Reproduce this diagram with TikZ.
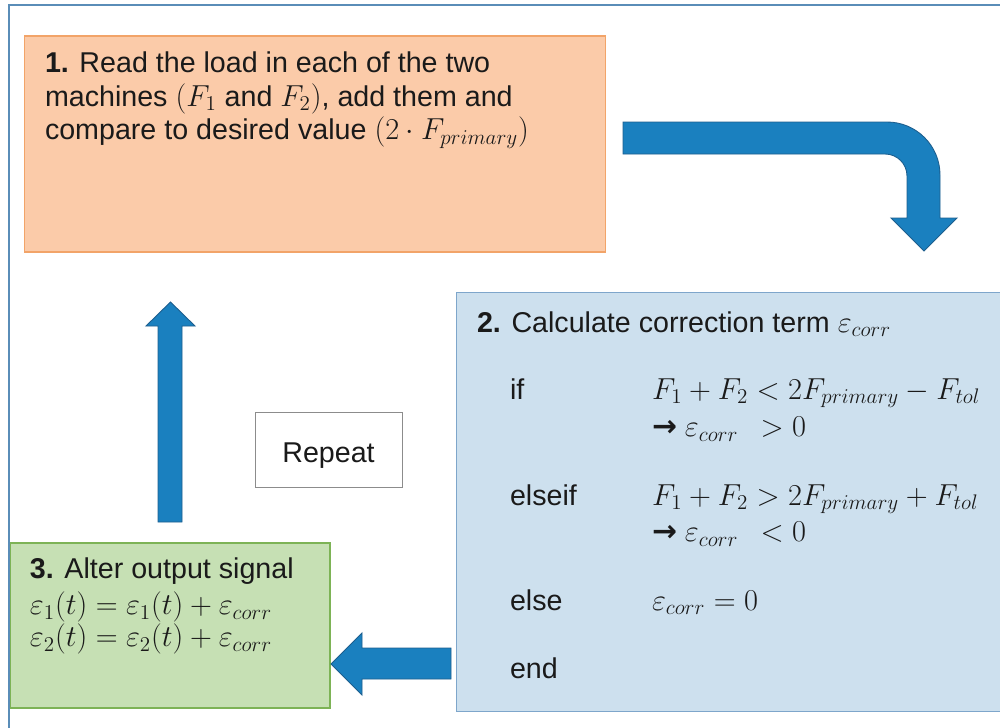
\documentclass[tikz,border=0pt]{standalone}
\usepackage{fontspec}
\setmainfont{Liberation Sans}
\newfontfamily\symfont{DejaVu Sans}
\definecolor{peach}{HTML}{FBCBA9}
\definecolor{peachline}{HTML}{F2A469}
\definecolor{lblue}{HTML}{CDE0EE}
\definecolor{lblueline}{HTML}{7EA6CB}
\definecolor{lgreen}{HTML}{C6E0B4}
\definecolor{lgreenline}{HTML}{7DB356}
\definecolor{arrowblue}{HTML}{1A80BF}
\definecolor{arrowline}{HTML}{1D5E8E}
\definecolor{frameblue}{HTML}{5A8DB8}
\definecolor{txt}{HTML}{1A1A1A}
\newcommand{\harr}{{\symfont\fontsize{17}{19}\selectfont\bfseries →}}
\newcommand{\mbig}[1]{{\fontsize{18.1}{19}\selectfont$#1$}}
\newcommand{\linesat}[2]{\vtop{\baselineskip=#1\lineskiplimit=-20pt\relax #2}}
\tikzset{
  panel/.style={draw, line width=0.6pt, inner sep=0pt, outer sep=0pt},
  lbl/.style={anchor=base west, inner sep=0pt, outer sep=0pt, text=txt,
              font=\fontsize{16.3}{19}\selectfont},
  blockarrow/.style={fill=arrowblue, draw=arrowline, line width=0.5pt, line join=miter},
}
\begin{document}
\begin{tikzpicture}[x=0.02cm, y=-0.02cm]
\useasboundingbox (0,0) rectangle (1000,727);
\fill[white] (0,0) rectangle (1000,727);
% outer frame
\draw[frameblue, line width=0.9pt] (9,740) -- (9,5) -- (1010,5);

% boxes
\node[panel, fill=peach, draw=peachline, minimum width=11.64cm, minimum height=4.32cm] (box1) at (315,144) {};
\node[panel, fill=lblue, draw=lblueline, minimum width=11.2cm, minimum height=8.4cm] (box2) at (736,502) {};
\node[panel, fill=lgreen, draw=lgreenline, minimum width=6.4cm, minimum height=3.3cm] (box3) at (170,625.5) {};
\node[panel, fill=white, draw=black!45, line width=0.5pt, minimum width=2.94cm, minimum height=1.5cm] (rep) at (328.5,449.5) {};

% box 1 text (three lines, 34px apart)
\node[lbl] (t1) at (45,72) {\linesat{19.35pt}{%
  \hbox{\textbf{1.} Read the load in each of the two}
  \hbox{machines \mbig{(F_1} and \mbig{F_2)}, add them and}
  \hbox{compare to desired value \mbig{(2\cdot F_{primary})}}}};

% box 2 text
\node[lbl] (t2) at (477,332) {\textbf{2.} Calculate correction term \mbig{\varepsilon_{corr}}};
\node[lbl] (kif) at (510,399) {if};
\node[lbl] (fif) at (652,399) {\linesat{21.6pt}{%
  \hbox{\mbig{F_1+F_2<2F_{primary}-F_{tol}}}
  \hbox{\harr\ \mbig{\varepsilon_{corr}\ \,>0}}}};
\node[lbl] (kelseif) at (510,505) {elseif};
\node[lbl] (felseif) at (652,505) {\linesat{21pt}{%
  \hbox{\mbig{F_1+F_2>2F_{primary}+F_{tol}}}
  \hbox{\harr\ \mbig{\varepsilon_{corr}\ \,<0}}}};
\node[lbl] (kelse) at (510,610) {else};
\node[lbl] (felse) at (652,610) {\mbig{\varepsilon_{corr}=0}};
\node[lbl] (kend) at (510,678) {end};

% box 3 text
\node[lbl] (t3) at (30,578) {\linesat{21.6pt}{%
  \hbox{\textbf{3.} Alter output signal}
  \vskip-0.55pt
  \hbox{\mbig{\varepsilon_1(t)=\varepsilon_1(t)+\varepsilon_{corr}}}
  \vskip-3.4pt
  \hbox{\mbig{\varepsilon_2(t)=\varepsilon_2(t)+\varepsilon_{corr}}}}};

% repeat label
\node[lbl, anchor=base] (trep) at (rep.center |- 0,462) {Repeat};

% bent arrow from box 1 to box 2
\draw[blockarrow] (623,122) -- (887,122)
  .. controls (916.3,122) and (940,145.7) .. (940,175)
  -- (940,218) -- (957,218) -- (924,251) -- (891,218) -- (907,218) -- (907,176)
  .. controls (907,163.8) and (897.2,154) .. (885,154)
  -- (623,154) -- cycle;

% left arrow from box 2 to box 3
\draw[blockarrow] (451,648) -- (362,648) -- (362,633) -- (331,664) -- (362,695) -- (362,679) -- (451,679) -- cycle;

% up arrow from box 3 to box 1
\draw[blockarrow] (158,522) -- (158,326) -- (146,326) -- (170.5,302) -- (195,326) -- (182,326) -- (182,522) -- cycle;
\end{tikzpicture}
\end{document}
